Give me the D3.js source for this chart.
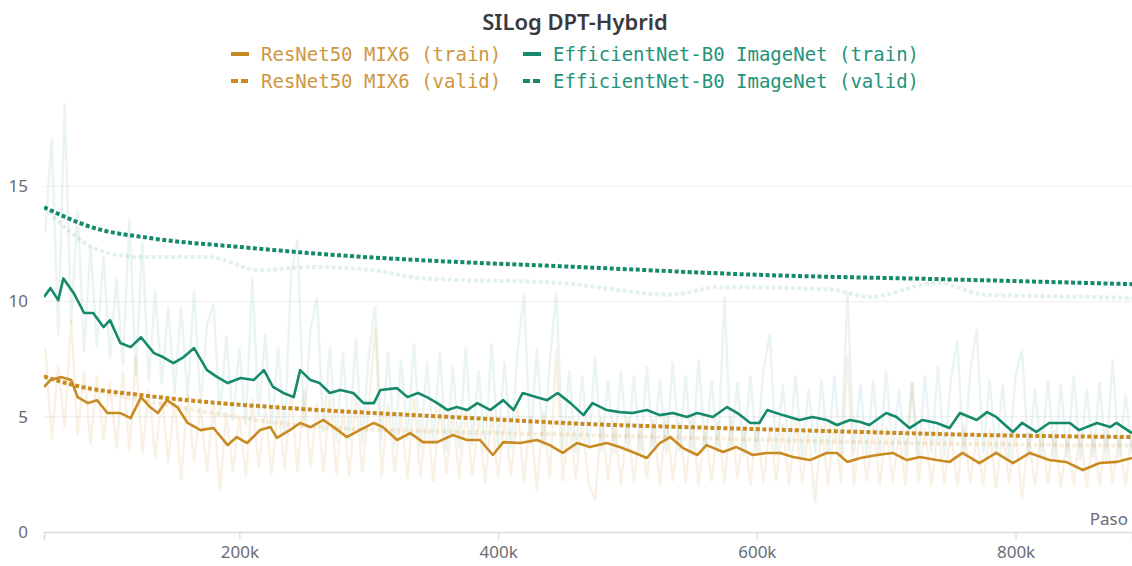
<!DOCTYPE html>
<html>
<head>
<meta charset="utf-8">
<script src="https://cdn.jsdelivr.net/npm/d3@7"></script>
<style>
  html, body { margin: 0; padding: 0; background: #fff; }
  svg { display: block; }
</style>
</head>
<body>
<div id="chart"></div>
<script>
// steps are in thousands (k)
const seriesNames = ["ResNet50 MIX6 (train)", "EfficientNet-B0 ImageNet (train)",
                     "ResNet50 MIX6 (valid)", "EfficientNet-B0 ImageNet (valid)"];
const xTicks = [200, 400, 600, 800];
const yTicks = [0, 5, 10, 15];

// raw (unsmoothed) train values, one every 5k steps from 50k
const rawStepStart = 50, rawStepEvery = 5;
const greenRaw = [
  13.0, 17.1, 8.5, 18.6, 9.0, 14.0, 7.8, 12.4, 8.0, 12.0,
  7.5, 11.0, 7.2, 13.6, 6.8, 12.6, 6.5, 10.5, 6.4, 9.8,
  6.0, 9.8, 5.8, 10.5, 5.5, 9.0, 9.9, 5.0, 8.5, 4.8,
  8.0, 4.6, 11.0, 5.0, 8.6, 4.4, 8.0, 4.2, 11.2, 12.7,
  4.5, 8.8, 10.2, 4.3, 8.0, 3.9, 7.8, 4.0, 8.4, 3.8,
  7.6, 9.8, 4.0, 7.8, 3.7, 7.5, 4.0, 8.2, 3.6, 7.4,
  3.8, 7.8, 3.5, 7.2, 3.6, 8.0, 3.8, 7.0, 3.5, 8.2,
  3.7, 7.4, 3.6, 7.8, 10.3, 3.8, 8.0, 3.7, 7.4, 10.4,
  3.6, 7.0, 3.4, 6.8, 3.6, 7.6, 3.5, 6.6, 3.4, 7.0,
  3.6, 6.8, 3.3, 7.2, 3.5, 6.6, 3.4, 7.4, 3.5, 6.8,
  3.3, 7.5, 3.5, 6.6, 3.4, 10.2, 3.6, 6.5, 3.3, 6.8,
  3.4, 7.0, 8.6, 3.3, 6.4, 3.5, 6.8, 3.2, 6.2, 3.4,
  6.6, 3.3, 6.8, 3.2, 10.4, 3.4, 6.4, 3.3, 6.6, 3.2,
  7.0, 3.4, 6.2, 3.3, 6.5, 3.2, 6.8, 3.4, 7.2, 3.3,
  6.6, 8.3, 3.2, 7.0, 8.8, 3.4, 6.6, 3.3, 6.4, 3.1,
  6.8, 7.9, 3.2, 6.2, 3.3, 6.6, 3.1, 6.4, 3.2, 6.8,
  3.1, 6.2, 3.2, 6.5, 3.1, 7.5, 3.2, 6.0, 3.4
];
const orangeRaw = [
  8.0, 4.0, 7.2, 4.5, 9.2, 4.2, 7.0, 3.8, 6.8, 4.0,
  6.5, 3.6, 7.0, 3.5, 7.6, 3.4, 6.2, 3.2, 6.0, 3.0,
  5.8, 2.25, 6.0, 3.0, 5.5, 2.6, 5.6, 1.8, 5.2, 2.6,
  5.0, 2.4, 5.8, 2.8, 5.4, 2.5, 5.6, 2.7, 6.0, 2.6,
  6.2, 2.8, 5.6, 2.6, 5.9, 2.5, 5.4, 2.4, 5.8, 2.6,
  5.4, 8.9, 2.4, 5.6, 2.6, 5.2, 2.3, 5.8, 2.4, 5.0,
  2.2, 5.6, 2.5, 5.2, 2.3, 5.4, 2.4, 5.0, 2.1, 5.2,
  2.3, 5.0, 2.4, 5.4, 2.2, 5.0, 1.8, 5.2, 2.3, 7.9,
  2.2, 5.0, 2.3, 4.8, 2.1, 1.4, 5.0, 2.2, 4.8, 2.0,
  5.0, 2.1, 4.7, 2.3, 4.9, 2.0, 5.2, 2.2, 4.8, 2.1,
  5.0, 2.0, 4.6, 2.2, 4.8, 2.1, 5.0, 2.3, 4.6, 2.0,
  4.8, 2.1, 4.6, 2.2, 4.7, 2.0, 4.9, 2.1, 4.5, 1.26,
  4.6, 2.0, 4.8, 2.1, 7.7, 2.0, 4.5, 2.2, 4.7, 2.0,
  4.6, 2.1, 4.4, 2.0, 6.5, 2.2, 4.5, 2.0, 4.6, 2.1,
  4.4, 2.0, 4.6, 2.1, 4.3, 2.0, 4.5, 1.9, 4.4, 2.1,
  4.5, 1.4, 4.3, 2.0, 4.6, 2.1, 4.4, 1.9, 4.2, 2.0,
  4.4, 1.9, 4.3, 2.0, 4.5, 2.1, 4.2, 2.0, 4.4
];

// smoothed train curves [step k, value]
const greenTrain = [
  [49,10.2],[54,10.58],[60,10.06],[64,11.0],[72,10.36],[80,9.5],[87,9.5],[95,8.89],[100,9.19],[108,8.2],
  [116,8.02],[124,8.45],[134,7.76],[141,7.59],[149,7.33],[157,7.59],[165,7.98],[175,7.02],[183,6.72],[191,6.46],
  [201,6.68],[211,6.59],[219,7.02],[226,6.29],[234,6.03],[242,5.85],[247,7.02],[255,6.59],[262,6.46],[270,6.03],
  [278,6.16],[288,6.03],[296,5.59],[304,5.59],[309,6.16],[322,6.24],[330,5.85],[338,6.03],[345,5.85],[353,5.59],
  [361,5.29],[368,5.42],[376,5.29],[384,5.59],[394,5.29],[404,5.72],[412,5.29],[419,6.03],[430,5.85],[438,5.72],
  [446,6.03],[456,5.59],[466,5.07],[473,5.59],[484,5.29],[494,5.2],[504,5.16],[515,5.29],[525,5.07],[535,5.16],
  [546,4.99],[554,5.16],[566,4.99],[577,5.42],[585,5.16],[595,4.73],[602,4.73],[608,5.29],[620,5.07],[633,4.86],
  [643,4.99],[654,4.86],[662,4.64],[672,4.86],[680,4.77],[687,4.64],[700,5.16],[708,4.99],[718,4.51],[728,4.86],
  [739,4.73],[749,4.51],[757,5.16],[770,4.86],[778,5.2],[785,4.99],[798,4.34],[805,4.73],[816,4.34],[826,4.73],
  [842,4.73],[849,4.42],[863,4.73],[873,4.55],[878,4.73],[890,4.29]
];
const orangeTrain = [
  [49,6.29],[54,6.59],[62,6.72],[70,6.59],[75,5.85],[83,5.59],[90,5.72],[98,5.16],[108,5.16],[116,4.94],
  [124,5.85],[131,5.42],[137,5.16],[144,5.72],[152,5.42],[160,4.73],[170,4.42],[180,4.51],[191,3.77],[198,4.12],
  [206,3.86],[216,4.42],[224,4.55],[229,4.08],[239,4.42],[247,4.73],[255,4.55],[265,4.86],[273,4.55],[283,4.12],
  [293,4.42],[304,4.73],[311,4.55],[322,3.99],[332,4.29],[342,3.9],[353,3.9],[365,4.21],[376,3.99],[386,3.99],
  [396,3.34],[404,3.9],[417,3.86],[430,3.99],[440,3.77],[450,3.43],[461,3.86],[471,3.69],[484,3.86],[494,3.69],
  [504,3.47],[515,3.21],[525,3.86],[533,4.12],[543,3.64],[554,3.34],[561,3.77],[574,3.47],[584,3.69],[597,3.34],
  [608,3.43],[618,3.43],[628,3.25],[641,3.12],[654,3.43],[662,3.43],[670,3.04],[680,3.21],[693,3.34],[705,3.43],
  [716,3.12],[726,3.25],[739,3.12],[749,3.04],[759,3.43],[772,2.99],[785,3.43],[798,2.99],[811,3.43],[826,3.12],
  [839,3.04],[852,2.69],[865,2.99],[878,3.04],[890,3.21]
];

// validation curves [step k, value]
const greenValid = [[49,14.09],[87,13.2],[131,12.75],[201,12.36],[278,12.0],[355,11.75],[448,11.53],[610,11.14],[739,10.97],[857,10.8],[890,10.75]];
const greenValidRaw = [[49,14.09],[93,12.2],[124,11.93],[175,11.93],[216,11.36],[253,11.5],[303,11.36],[342,11.0],[448,10.8],[533,10.3],[571,10.62],[656,10.53],[687,10.2],[739,10.8],[778,10.28],[857,10.2],[890,10.15]];
const orangeValid = [[49,6.75],[72,6.37],[124,5.94],[175,5.64],[226,5.42],[262,5.29],[363,4.99],[471,4.68],[571,4.51],[680,4.34],[780,4.2],[890,4.12]];
const orangeValidRaw = [[49,6.7],[100,6.0],[155,5.4],[262,4.55],[363,4.35],[471,4.2],[571,4.05],[680,3.9],[780,3.8],[890,3.75]];

const orange = "#c98a22";
const green = "#158a6b";

var width = 1132, height = 566;
var plotLeft = 44, plotRight = 1132, plotTop = 94, plotBottom = 532;

var svg = d3.select("#chart").append("svg")
  .attr("width", width)
  .attr("height", height)
  .style("font-family", "'Noto Sans', sans-serif");

var x = d3.scaleLinear().domain([49, 890]).range([plotLeft, plotRight]);
var y = d3.scaleLinear().domain([0, 19]).range([plotBottom, plotTop]);

svg.append("defs").append("clipPath").attr("id", "plot")
  .append("rect").attr("x", plotLeft).attr("y", plotTop - 10)
  .attr("width", plotRight - plotLeft).attr("height", plotBottom - plotTop + 10);

// gridlines
svg.append("g").selectAll("line").data(yTicks.filter(d => d > 0)).enter().append("line")
  .attr("x1", plotLeft).attr("x2", plotRight)
  .attr("y1", d => y(d)).attr("y2", d => y(d))
  .attr("stroke", "#efeff1").attr("stroke-width", 1);

// y tick labels
svg.append("g").selectAll("text").data(yTicks).enter().append("text")
  .attr("x", 28).attr("y", d => y(d) + 6)
  .attr("text-anchor", "end")
  .attr("font-size", 17).attr("fill", "#6b6b76")
  .text(d => d);

// x axis
var xAxis = d3.axisBottom(x).tickValues(xTicks).tickFormat(d => d + "k").tickSize(8).tickPadding(6);
var gx = svg.append("g").attr("transform", "translate(0," + plotBottom + ")").call(xAxis);
gx.select(".domain").attr("stroke", "#dcdce0").attr("stroke-width", 1.5);
gx.selectAll(".tick line").attr("stroke", "#dcdce0").attr("stroke-width", 1.2);
gx.selectAll(".tick text").attr("font-size", 17).attr("fill", "#6b6b76")
  .style("font-family", "'Noto Sans', sans-serif");

svg.append("text").attr("x", 1128).attr("y", 525).attr("text-anchor", "end")
  .attr("font-size", 17).attr("fill", "#6b6b76").text("Paso");

var line = d3.line().x(d => x(d[0])).y(d => y(d[1]));
var smoothLine = d3.line().curve(d3.curveMonotoneX).x(d => x(d[0])).y(d => y(d[1]));
var rawLine = d3.line().x((d, i) => x(rawStepStart + i * rawStepEvery)).y(d => y(d));

var plot = svg.append("g").attr("clip-path", "url(#plot)");

// raw train (faint)
plot.append("path").datum(orangeRaw).attr("d", rawLine)
  .attr("fill", "none").attr("stroke", orange).attr("stroke-opacity", 0.12).attr("stroke-width", 2.4);
plot.append("path").datum(greenRaw).attr("d", rawLine)
  .attr("fill", "none").attr("stroke", green).attr("stroke-opacity", 0.09).attr("stroke-width", 2.4);

// raw valid (faint dotted)
plot.append("path").datum(orangeValidRaw).attr("d", smoothLine)
  .attr("fill", "none").attr("stroke", orange).attr("stroke-opacity", 0.15)
  .attr("stroke-width", 4).attr("stroke-dasharray", "4,2.5");
plot.append("path").datum(greenValidRaw).attr("d", smoothLine)
  .attr("fill", "none").attr("stroke", green).attr("stroke-opacity", 0.12)
  .attr("stroke-width", 4).attr("stroke-dasharray", "4,2.5");

// smoothed train
plot.append("path").datum(orangeTrain).attr("d", line)
  .attr("fill", "none").attr("stroke", orange).attr("stroke-width", 2.6).attr("stroke-linejoin", "round");
plot.append("path").datum(greenTrain).attr("d", line)
  .attr("fill", "none").attr("stroke", green).attr("stroke-width", 2.6).attr("stroke-linejoin", "round");

// smoothed valid
plot.append("path").datum(orangeValid).attr("d", smoothLine)
  .attr("fill", "none").attr("stroke", orange).attr("stroke-width", 4).attr("stroke-dasharray", "4,2.5");
plot.append("path").datum(greenValid).attr("d", smoothLine)
  .attr("fill", "none").attr("stroke", green).attr("stroke-width", 4).attr("stroke-dasharray", "4,2.5");

// title
svg.append("text").attr("x", 575).attr("y", 30).attr("text-anchor", "middle")
  .attr("font-size", 22).attr("font-weight", 600).attr("fill", "#3a3a3e")
  .text("SILog DPT-Hybrid");

// legend
var legendItems = [
  {name: seriesNames[0], color: orange, text: "#cf9641", dash: null, x: 231, y: 56},
  {name: seriesNames[1], color: green, text: "#25937a", dash: null, x: 523, y: 56},
  {name: seriesNames[2], color: orange, text: "#cf9641", dash: "7,3", x: 231, y: 83},
  {name: seriesNames[3], color: green, text: "#25937a", dash: "7,3", x: 523, y: 83}
];
var lg = svg.append("g").selectAll("g").data(legendItems).enter().append("g")
  .attr("transform", d => "translate(" + d.x + "," + d.y + ")");
lg.append("line").attr("x1", 0).attr("x2", 18).attr("y1", -2).attr("y2", -2)
  .attr("stroke", d => d.color).attr("stroke-width", 4)
  .attr("stroke-dasharray", d => d.dash);
lg.append("text").attr("x", 30).attr("y", 5)
  .attr("font-size", 19).attr("fill", d => d.text)
  .style("font-family", "'DejaVu Sans Mono', monospace")
  .text(d => d.name);
</script>
</body>
</html>
